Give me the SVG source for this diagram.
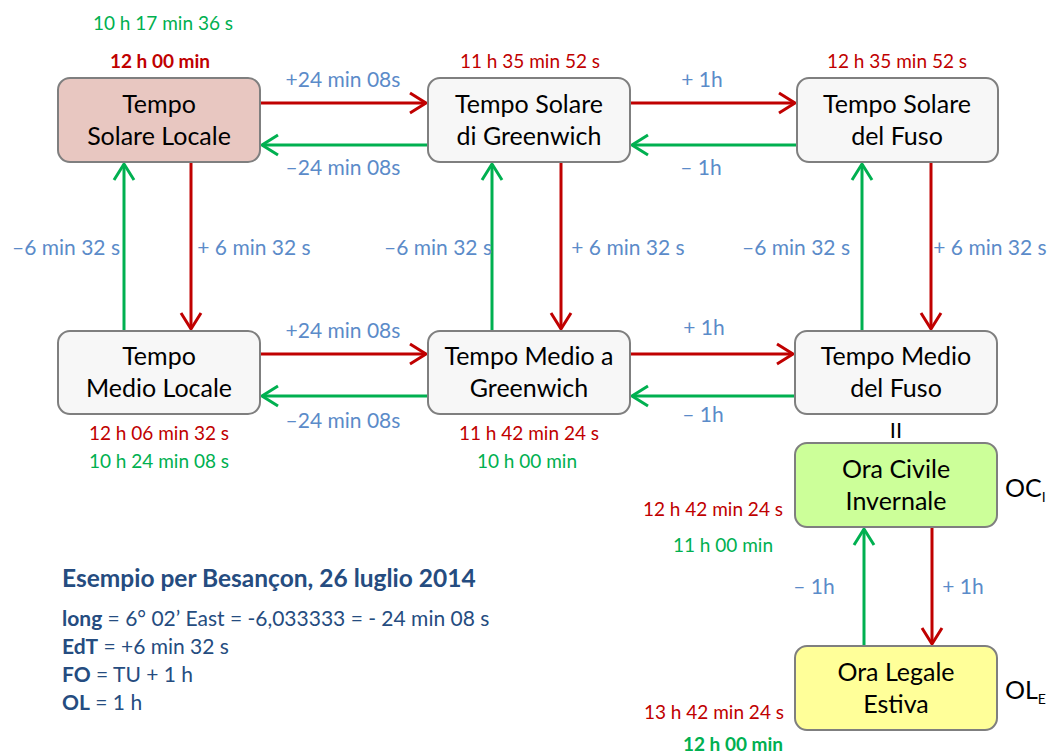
<svg xmlns="http://www.w3.org/2000/svg" width="1050" height="754" viewBox="0 0 1050 754">
<defs>
<style>
text{font-family:Lato,"Open Sans","Liberation Sans",sans-serif}
.box{stroke:#7f7f7f;stroke-width:2}
.g{fill:#f7f7f7}
.nt{font-size:25px;fill:#000;text-anchor:middle}
.lb{font-size:21px;fill:#5b8bc9;text-anchor:middle}
.rt{font-size:19px;fill:#c00000;text-anchor:middle}
.gt{font-size:19px;fill:#00b050;text-anchor:middle}
.b{font-weight:bold}
.red{stroke:#c00000;stroke-width:3;fill:none}
.grn{stroke:#00b050;stroke-width:3;fill:none}
.info{font-size:21px;fill:#254c80}
</style>
<marker id="ar" viewBox="0 0 20 22" refX="18" refY="11" markerWidth="20" markerHeight="22" markerUnits="userSpaceOnUse" orient="auto" overflow="visible">
<path d="M2,1 L18,11 L2,21" fill="none" stroke="#c00000" stroke-width="3"/>
</marker>
<marker id="ag" viewBox="0 0 20 22" refX="18" refY="11" markerWidth="20" markerHeight="22" markerUnits="userSpaceOnUse" orient="auto" overflow="visible">
<path d="M2,1 L18,11 L2,21" fill="none" stroke="#00b050" stroke-width="3"/>
</marker>
</defs>
<rect width="1050" height="754" fill="#fff"/>

<g id="connectors">
<line class="red" x1="260" y1="103" x2="426" y2="103" marker-end="url(#ar)"/>
<line class="grn" x1="428" y1="145" x2="262" y2="145" marker-end="url(#ag)"/>
<line class="red" x1="630" y1="103" x2="795" y2="103" marker-end="url(#ar)"/>
<line class="grn" x1="797" y1="145" x2="632" y2="145" marker-end="url(#ag)"/>
<line class="red" x1="260" y1="354" x2="426" y2="354" marker-end="url(#ar)"/>
<line class="grn" x1="428" y1="396" x2="262" y2="396" marker-end="url(#ag)"/>
<line class="red" x1="630" y1="354" x2="793" y2="354" marker-end="url(#ar)"/>
<line class="grn" x1="795" y1="396" x2="632" y2="396" marker-end="url(#ag)"/>
<line class="grn" x1="124" y1="331" x2="124" y2="164" marker-end="url(#ag)"/>
<line class="red" x1="191" y1="162" x2="191" y2="329" marker-end="url(#ar)"/>
<line class="grn" x1="492" y1="331" x2="492" y2="164" marker-end="url(#ag)"/>
<line class="red" x1="561" y1="162" x2="561" y2="329" marker-end="url(#ar)"/>
<line class="grn" x1="862" y1="331" x2="862" y2="164" marker-end="url(#ag)"/>
<line class="red" x1="931" y1="162" x2="931" y2="329" marker-end="url(#ar)"/>
<line class="grn" x1="864" y1="646" x2="864" y2="529" marker-end="url(#ag)"/>
<line class="red" x1="932" y1="527" x2="932" y2="644" marker-end="url(#ar)"/>
</g>

<g id="n1"><rect class="box" x="58" y="78" width="202" height="84" rx="12" fill="#e8c7c1"/>
<text class="nt" x="159" y="113">Tempo</text><text class="nt" x="159" y="145">Solare Locale</text></g>
<g id="n2"><rect class="box g" x="428" y="78" width="202" height="84" rx="12"/>
<text class="nt" x="529" y="113">Tempo Solare</text><text class="nt" x="529" y="145">di Greenwich</text></g>
<g id="n3"><rect class="box g" x="797" y="78" width="201" height="84" rx="12"/>
<text class="nt" x="897" y="113">Tempo Solare</text><text class="nt" x="897" y="145">del Fuso</text></g>
<g id="n4"><rect class="box g" x="58" y="331" width="202" height="83" rx="12"/>
<text class="nt" x="159" y="365">Tempo</text><text class="nt" x="159" y="397">Medio Locale</text></g>
<g id="n5"><rect class="box g" x="428" y="331" width="202" height="83" rx="12"/>
<text class="nt" x="529" y="365">Tempo Medio a</text><text class="nt" x="529" y="397">Greenwich</text></g>
<g id="n6"><rect class="box g" x="795" y="331" width="202" height="83" rx="12"/>
<text class="nt" x="896" y="365">Tempo Medio</text><text class="nt" x="896" y="397">del Fuso</text></g>
<g id="n7"><rect class="box" x="795" y="443" width="202" height="84" rx="12" fill="#ccff99"/>
<text class="nt" x="896" y="478">Ora Civile</text><text class="nt" x="896" y="510">Invernale</text></g>
<g id="n8"><rect class="box" x="795" y="646" width="202" height="84" rx="12" fill="#ffff99"/>
<text class="nt" x="896" y="681">Ora Legale</text><text class="nt" x="896" y="713">Estiva</text></g>

<g id="labels">
<text class="gt" x="163" y="30">10 h 17 min 36 s</text>
<text class="rt b" x="160" y="68">12 h 00 min</text>
<text class="rt" x="530" y="68">11 h 35 min 52 s</text>
<text class="rt" x="897" y="68">12 h 35 min 52 s</text>
<text class="lb" x="343" y="87">+24 min 08s</text>
<text class="lb" x="343" y="175">–24 min 08s</text>
<text class="lb" x="702" y="87">+ 1h</text>
<text class="lb" x="701" y="175">– 1h</text>
<text class="lb" x="66" y="255">–6 min 32 s</text>
<text class="lb" x="254" y="255">+ 6 min 32 s</text>
<text class="lb" x="438" y="255">–6 min 32 s</text>
<text class="lb" x="628" y="255">+ 6 min 32 s</text>
<text class="lb" x="796" y="255">–6 min 32 s</text>
<text class="lb" x="990" y="255">+ 6 min 32 s</text>
<text class="lb" x="343" y="338">+24 min 08s</text>
<text class="lb" x="343" y="428">–24 min 08s</text>
<text class="lb" x="704" y="335">+ 1h</text>
<text class="lb" x="703" y="422">– 1h</text>
<text class="rt" x="159" y="440">12 h 06 min 32 s</text>
<text class="gt" x="159" y="468">10 h 24 min 08 s</text>
<text class="rt" x="529" y="440">11 h 42 min 24 s</text>
<text class="gt" x="527" y="468">10 h 00 min</text>
<text class="nt" x="896" y="438" style="font-size:22px">II</text>
<text x="1005" y="497" style="font-size:25px;fill:#000">OC<tspan dy="5" style="font-size:14px">I</tspan></text>
<text x="1005" y="699" style="font-size:25px;fill:#000">OL<tspan dy="5" style="font-size:14px">E</tspan></text>
<text class="rt" x="783" y="516" style="text-anchor:end">12 h 42 min 24 s</text>
<text class="gt" x="723" y="552">11 h 00 min</text>
<text class="lb" x="814" y="594">– 1h</text>
<text class="lb" x="963" y="594">+ 1h</text>
<text class="rt" x="784" y="719" style="text-anchor:end">13 h 42 min 24 s</text>
<text class="gt b" x="733" y="751">12 h 00 min</text>
</g>

<g id="info">
<text class="info b" x="62" y="587" style="font-size:24.5px">Esempio per Besançon, 26 luglio 2014</text>
<text class="info" x="62" y="626"><tspan class="b">long</tspan> = 6° 02’ East = -6,033333 = - 24 min 08 s</text>
<text class="info" x="62" y="654"><tspan class="b">EdT</tspan> = +6 min 32 s</text>
<text class="info" x="62" y="682"><tspan class="b">FO</tspan> = TU + 1 h</text>
<text class="info" x="62" y="710"><tspan class="b">OL</tspan> = 1 h</text>
</g>
</svg>
